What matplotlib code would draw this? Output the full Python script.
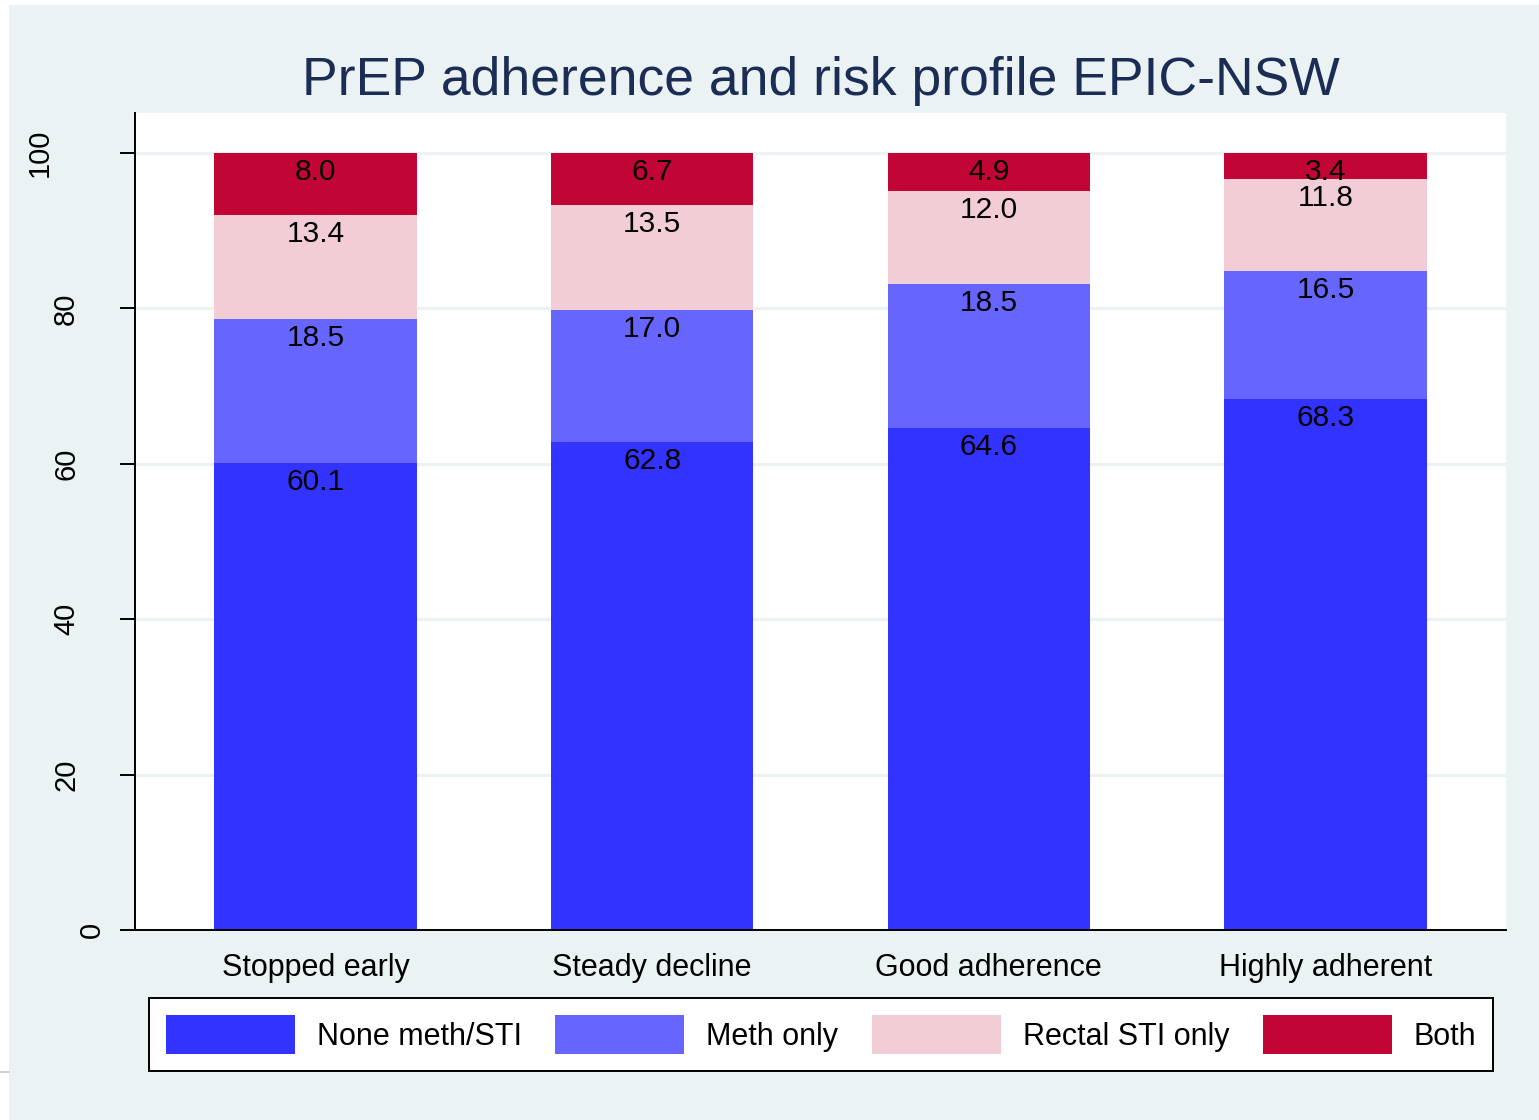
import numpy as np
import matplotlib
matplotlib.use("Agg")
import matplotlib.pyplot as plt
from matplotlib.patches import Rectangle
from matplotlib.lines import Line2D
from matplotlib.transforms import ScaledTranslation

plt.rcParams["font.family"] = ["Liberation Sans", "DejaVu Sans"]

# data (percent of each adherence group)
groups = ["Stopped early", "Steady decline", "Good adherence", "Highly adherent"]
series_names = ["None meth/STI", "Meth only", "Rectal STI only", "Both"]
none_meth_sti = [60.1, 62.8, 64.6, 68.3]
meth_only = [18.5, 17.0, 18.5, 16.5]
rectal_sti_only = [13.4, 13.5, 12.0, 11.8]
both = [8.0, 6.7, 4.9, 3.4]
y_ticks = [0, 20, 40, 60, 80, 100]

colors = ["#3333FF", "#6666FF", "#F2CDD5", "#C10534"]
BG = "#EAF2F3"

fig = plt.figure(figsize=(15.39, 11.2), dpi=100, facecolor="white")
# outer graph region (screenshot leaves a thin white margin top/left)
fig.add_artist(Rectangle((9 / 1539, 0), 1 - 9 / 1539, 1 - 5 / 1120,
                         transform=fig.transFigure, facecolor=BG,
                         edgecolor="none", zorder=-10))
fig.add_artist(Line2D([0, 9 / 1539], [1 - 1072 / 1120] * 2,
                      transform=fig.transFigure, color="#C8C8C8", lw=1.2))

ax = fig.add_axes([135 / 1539, 1 - 930 / 1120,
                   (1506 - 135) / 1539, (930 - 113) / 1120])
ax.set_facecolor("white")

x = np.arange(len(groups))
width = 0.602
bottom = np.zeros(len(groups))
handles = []
for vals, name, col in zip([none_meth_sti, meth_only, rectal_sti_only, both],
                           series_names, colors):
    vals = np.array(vals)
    bars = ax.bar(x, vals, width, bottom=bottom, color=col, label=name,
                  zorder=2, linewidth=0)
    handles.append(bars)
    tops = bottom + vals
    for xi, top, v in zip(x, tops, vals):
        ax.annotate(f"{v:.1f}", (xi, top), xytext=(0, -13.7),
                    textcoords="offset points", ha="center", va="center",
                    fontsize=21.5, color="black", zorder=3)
    bottom = tops

ax.set_xlim(-0.536, 3.536)
ax.set_ylim(0, 105.15)

ax.set_xticks(x)
ax.set_xticklabels(groups, fontsize=22)
ax.tick_params(axis="x", length=0, pad=16.3)

ax.set_yticks(y_ticks)
ax.set_yticklabels([])
ax.tick_params(axis="y", length=10.8, width=1.4, color="black")
ax.yaxis.grid(True, color=BG, linewidth=2.2, zorder=0)
ax.set_axisbelow(True)

# rotated y labels, staggered like the original export
ytrans = ax.get_yaxis_transform()
for v in y_ticks:
    lab = str(v)
    dx = -(3 + 26 * len(lab)) / 100
    ax.text(0, v, lab, rotation=90, ha="right", va="center", fontsize=21,
            transform=ytrans + ScaledTranslation(dx, 0, fig.dpi_scale_trans))

for s in ["top", "right"]:
    ax.spines[s].set_visible(False)
for s in ["left", "bottom"]:
    ax.spines[s].set_color("black")
    ax.spines[s].set_linewidth(1.4)

fig.text(821 / 1539, 1 - 81 / 1120, "PrEP adherence and risk profile EPIC-NSW",
         ha="center", va="center", fontsize=38.5, color="#1C2D55")

leg = fig.legend(handles=handles, labels=series_names, ncol=4, loc="center",
                 bbox_to_anchor=(821 / 1539, 1 - 1034.5 / 1120),
                 fontsize=22, frameon=True, fancybox=False, facecolor="white",
                 edgecolor="black", framealpha=1, handlelength=4.22,
                 handleheight=1.56, handletextpad=0.72, columnspacing=1.1,
                 borderpad=0.56)
leg.get_frame().set_linewidth(1.4)

fig.savefig("out.png", dpi=100, facecolor=fig.get_facecolor())
